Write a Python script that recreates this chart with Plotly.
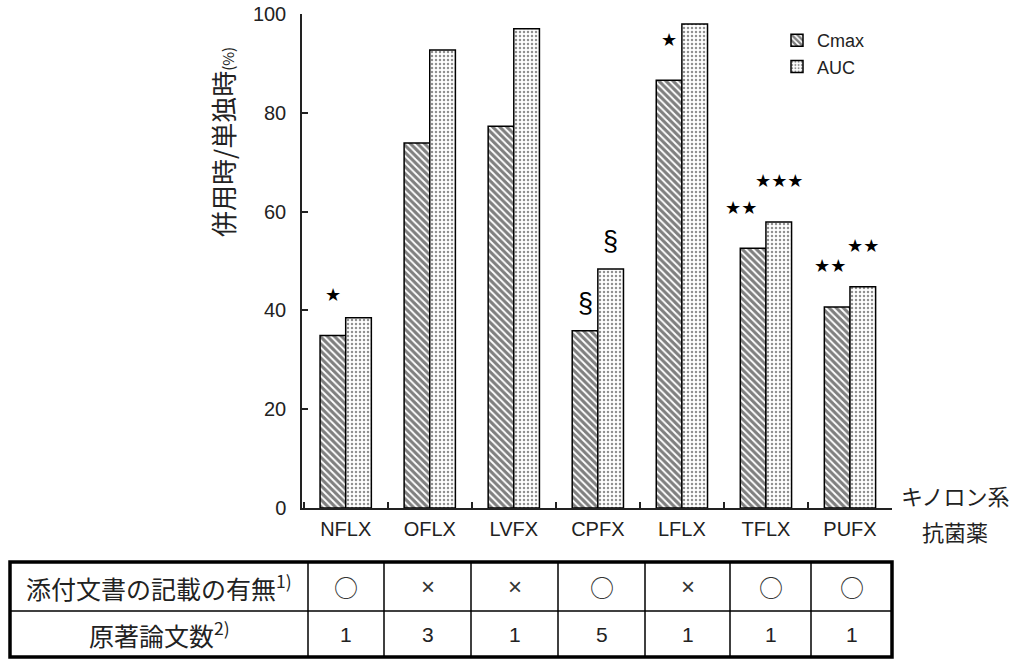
import plotly.graph_objects as go

# ---------------- data ----------------
categories = ["NFLX", "OFLX", "LVFX", "CPFX", "LFLX", "TFLX", "PUFX"]
cmax = [34.9, 73.9, 77.3, 35.9, 86.6, 52.6, 40.7]
auc = [38.5, 92.7, 97.0, 48.4, 98.0, 57.9, 44.8]
sig_cmax = ["*", "", "", "§", "*", "**", "**"]
sig_auc = ["", "", "", "§", "", "***", "**"]
row1_label = "添付文書の記載の有無<sup>1)</sup>"
row2_label = "原著論文数<sup>2)</sup>"
row1_values = ["○", "×", "×", "○", "×", "○", "○"]
row2_values = [1, 3, 1, 5, 1, 1, 1]
y_title = "併用時/単独時"
x_title_lines = ["キノロン系", "抗菌薬"]

# ---------------- layout constants ----------------
W, H = 1016, 660
L, R, T, B = 302, 892, 14, 508
FONT = "Liberation Sans, Arial, Noto Sans CJK JP, sans-serif"
JFONT = "Noto Sans CJK JP, Liberation Sans, sans-serif"
BARGAP = 0.39
XR = [-0.52, 6.5]


def pxx(X):
    return (X - L) / (R - L)


def pxy(Y):
    return (B - Y) / (B - T)


fig = go.Figure()
fig.add_trace(go.Bar(
    x=categories, y=cmax, name="Cmax",
    marker=dict(color="white", line=dict(color="black", width=1.5),
                pattern=dict(shape="\\", size=5, solidity=0.62,
                             fgcolor="black", bgcolor="white")),
))
fig.add_trace(go.Bar(
    x=categories, y=auc, name="AUC",
    marker=dict(color="white", line=dict(color="black", width=1.5),
                pattern=dict(shape=".", size=4, solidity=0.3,
                             fgcolor="#222", bgcolor="white")),
))

# significance marks
half = (1 - BARGAP) / 4.0
xshift_c = {"TFLX": -12, "PUFX": -7}
annotations = []


def sig_ann(i, label, yval, off, xs):
    if not label:
        return
    if "§" in label:
        txt, fam, size, ys = label, FONT, 27, 28
    else:
        txt, fam, size, ys = "★" * len(label), "DejaVu Sans", 18, 41
    annotations.append(dict(
        x=i + off, y=yval, xref="x", yref="y", text=txt, showarrow=False,
        xanchor="center", yanchor="middle", yshift=ys, xshift=xs,
        font=dict(family=fam, size=size, color="black")))


for i, c in enumerate(categories):
    sig_ann(i, sig_cmax[i], cmax[i], -half, xshift_c.get(c, 0))
    sig_ann(i, sig_auc[i], auc[i], half, 0)

# y-axis title (rotated)
annotations.append(dict(
    x=pxx(222), y=pxy(142), xref="paper", yref="paper",
    text=y_title + "<span style='font-size:15px'>(%)</span>",
    textangle=-90, showarrow=False, xanchor="center", yanchor="middle",
    font=dict(family=JFONT, size=26, color="#222")))

# x-axis title on the right
for k, line in enumerate(x_title_lines):
    annotations.append(dict(
        x=pxx(955), y=pxy(495 + 36 * k), xref="paper", yref="paper",
        text=line, showarrow=False, xanchor="center", yanchor="middle",
        font=dict(family=JFONT, size=22, color="#222")))

# ---------------- table ----------------
col_px = [10, 308, 384, 471, 558, 645, 730, 811, 892]
row_px = [562, 611, 657]
shapes = []
shapes.append(dict(type="rect", xref="paper", yref="paper",
                   x0=pxx(col_px[0]), x1=pxx(col_px[-1]),
                   y0=pxy(row_px[0]), y1=pxy(row_px[-1]),
                   line=dict(color="black", width=3.5)))
shapes.append(dict(type="line", xref="paper", yref="paper",
                   x0=pxx(col_px[0]), x1=pxx(col_px[-1]),
                   y0=pxy(row_px[1]), y1=pxy(row_px[1]),
                   line=dict(color="black", width=1.5)))
for X in col_px[1:-1]:
    shapes.append(dict(type="line", xref="paper", yref="paper",
                       x0=pxx(X), x1=pxx(X), y0=pxy(row_px[0]), y1=pxy(row_px[-1]),
                       line=dict(color="black", width=1.5)))

row_centers = [(row_px[0] + row_px[1]) / 2, (row_px[1] + row_px[2]) / 2]
labels = [row1_label, row2_label]
for r in range(2):
    annotations.append(dict(
        x=pxx((col_px[0] + col_px[1]) / 2), y=pxy(row_centers[r]),
        xref="paper", yref="paper", text=labels[r], showarrow=False,
        xanchor="center", yanchor="middle",
        font=dict(family=JFONT, size=25, color="#222")))
for j in range(len(categories)):
    cx = (col_px[j + 1] + col_px[j + 2]) / 2
    is_circle = row1_values[j] == "○"
    annotations.append(dict(
        x=pxx(cx), y=pxy(row_centers[0]), xref="paper", yref="paper",
        text=row1_values[j], showarrow=False, xanchor="center", yanchor="middle",
        font=dict(family=JFONT if is_circle else FONT,
                  size=24 if is_circle else 24, color="#333")))
    annotations.append(dict(
        x=pxx(cx), y=pxy(row_centers[1]), xref="paper", yref="paper",
        text=str(row2_values[j]), showarrow=False, xanchor="center", yanchor="middle",
        font=dict(family=FONT, size=21, color="#222")))

fig.update_layout(
    width=W, height=H,
    margin=dict(l=L, r=W - R, t=T, b=H - B, pad=0, autoexpand=False),
    paper_bgcolor="white", plot_bgcolor="white",
    barmode="group", bargap=BARGAP, bargroupgap=0,
    font=dict(family=FONT, color="#222"),
    showlegend=True,
    legend=dict(x=pxx(777), y=pxy(22), xanchor="left", yanchor="top",
                font=dict(family=FONT, size=18, color="#222"),
                bgcolor="rgba(0,0,0,0)", itemwidth=30, tracegroupgap=0),
    xaxis=dict(range=XR, showline=True, linecolor="#222", linewidth=1.5,
               ticks="inside", ticklen=6, tickwidth=1.5, tickcolor="#222",
               tickson="boundaries", showgrid=False, zeroline=False,
               automargin=False,
               tickfont=dict(family=FONT, size=20, color="#222"),
               ticklabelstandoff=2),
    yaxis=dict(range=[0, 100], dtick=20, showline=True, linecolor="#222",
               linewidth=1.5, ticks="inside", ticklen=6, tickwidth=1.5,
               tickcolor="#222", showgrid=False, zeroline=False,
               automargin=False,
               tickfont=dict(family=FONT, size=20, color="#222"),
               ticklabelstandoff=10),
    annotations=annotations,
    shapes=shapes,
)

fig.write_html("out.html")
